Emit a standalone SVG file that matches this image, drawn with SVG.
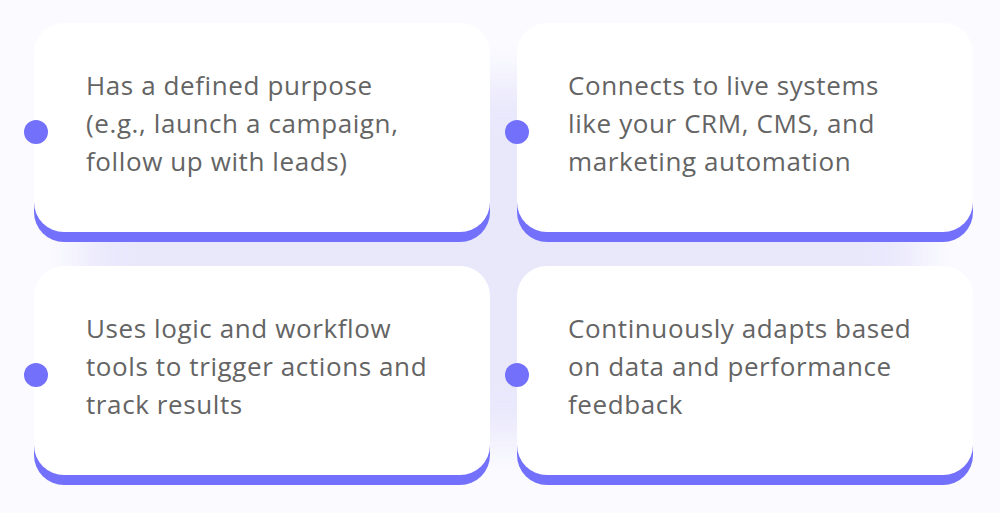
<svg xmlns="http://www.w3.org/2000/svg" width="1000" height="513" viewBox="0 0 1000 513">
<defs>
<filter id="glow" x="-20%" y="-20%" width="140%" height="140%"><feGaussianBlur stdDeviation="22"/></filter>
</defs>
<style>
.sh{fill:#7371fc}.card{fill:#ffffff}.dot{fill:#7371fc}
text{font-family:"Open Sans","Liberation Sans",sans-serif;font-size:26px;letter-spacing:0.6px;fill:#646464}
</style>
<rect width="1000" height="513" fill="#fbfbff"/>
<rect x="80" y="80" width="840" height="360" rx="60" fill="#e2e0fa" filter="url(#glow)" opacity="0.7"/>
<g id="card1">
<rect class="sh" x="34" y="33" width="456" height="209" rx="30"/>
<rect class="card" x="34" y="23" width="456" height="209" rx="30"/>
<circle class="dot" cx="36" cy="132" r="12"/>
<text x="86" y="95">Has a defined purpose</text>
<text x="86" y="133">(e.g., launch a campaign,</text>
<text x="86" y="171">follow up with leads)</text>
</g>
<g id="card2">
<rect class="sh" x="517" y="33" width="456" height="209" rx="30"/>
<rect class="card" x="517" y="23" width="456" height="209" rx="30"/>
<circle class="dot" cx="517" cy="132" r="12"/>
<text x="568" y="95">Connects to live systems</text>
<text x="568" y="133">like your CRM, CMS, and</text>
<text x="568" y="171">marketing automation</text>
</g>
<g id="card3">
<rect class="sh" x="34" y="276" width="456" height="209" rx="30"/>
<rect class="card" x="34" y="266" width="456" height="209" rx="30"/>
<circle class="dot" cx="36" cy="375" r="12"/>
<text x="86" y="338">Uses logic and workflow</text>
<text x="86" y="376">tools to trigger actions and</text>
<text x="86" y="414">track results</text>
</g>
<g id="card4">
<rect class="sh" x="517" y="276" width="456" height="209" rx="30"/>
<rect class="card" x="517" y="266" width="456" height="209" rx="30"/>
<circle class="dot" cx="517" cy="375" r="12"/>
<text x="568" y="338">Continuously adapts based</text>
<text x="568" y="376">on data and performance</text>
<text x="568" y="414">feedback</text>
</g>
<g id="connectors"/>
</svg>
